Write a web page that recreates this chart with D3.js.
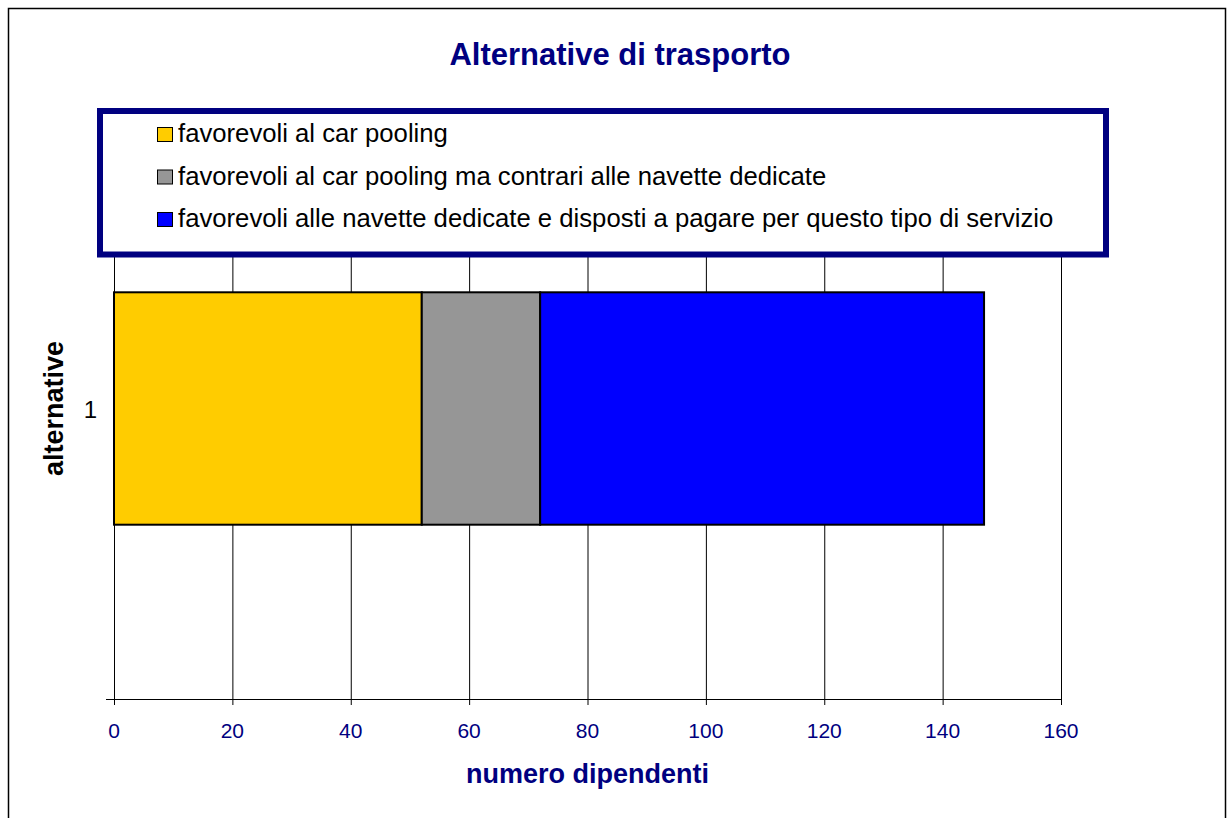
<!DOCTYPE html>
<html>
<head>
<meta charset="utf-8">
<script src="https://cdn.jsdelivr.net/npm/d3@7"></script>
<style>
  body { margin: 0; background: #fff; }
  text { font-family: Arial, "Liberation Sans", sans-serif; }
</style>
</head>
<body>
<svg id="chart" width="1227" height="818"></svg>
<script>
// data
const categories = ["1"];
const seriesNames = [
    "favorevoli al car pooling",
    "favorevoli al car pooling ma contrari alle navette dedicate",
    "favorevoli alle navette dedicate e disposti a pagare per questo tipo di servizio"
];
const seriesValues = [[52], [20], [75]];
const seriesColors = ["#ffcc00", "#969696", "#0000ff"];
const xTicks = [0, 20, 40, 60, 80, 100, 120, 140, 160];

const svg = d3.select("#chart");
const navy = "#000080";

// outer frame
svg.append("rect")
    .attr("x", 8.5).attr("y", 8.5)
    .attr("width", 1217).attr("height", 830)
    .attr("fill", "none").attr("stroke", "#000").attr("stroke-width", 1.5);

const plot = { left: 114, right: 1061, top: 118, bottom: 699 };

const x = d3.scaleLinear().domain([0, 160]).range([plot.left, plot.right]);
const y = d3.scaleBand().domain(categories).range([plot.top, plot.bottom])
    .paddingInner(0.6).paddingOuter(0.3);

// gridlines
svg.append("g")
    .selectAll("line")
    .data(xTicks)
    .join("line")
    .attr("x1", d => x(d) + 0.5).attr("x2", d => x(d) + 0.5)
    .attr("y1", plot.top).attr("y2", plot.bottom + 6)
    .attr("stroke", "#000").attr("stroke-width", 1);

// x axis line
svg.append("line")
    .attr("x1", 106).attr("x2", plot.right + 1)
    .attr("y1", plot.bottom + 0.5).attr("y2", plot.bottom + 0.5)
    .attr("stroke", "#000").attr("stroke-width", 1);

// tick labels
svg.append("g")
    .selectAll("text")
    .data(xTicks)
    .join("text")
    .attr("x", d => x(d))
    .attr("y", 738)
    .attr("text-anchor", "middle")
    .style("font-size", "21px")
    .attr("fill", navy)
    .text(d => d);

// stacked bars
const stackData = categories.map((c, i) => {
    const row = { cat: c };
    seriesNames.forEach((s, j) => row[s] = seriesValues[j][i]);
    return row;
});
const stacked = d3.stack().keys(seriesNames)(stackData);

svg.append("g")
    .selectAll("g")
    .data(stacked)
    .join("g")
    .attr("fill", (d, i) => seriesColors[i])
    .selectAll("rect")
    .data(d => d)
    .join("rect")
    .attr("x", d => x(d[0]))
    .attr("y", d => y(d.data.cat))
    .attr("width", d => x(d[1]) - x(d[0]))
    .attr("height", y.bandwidth())
    .attr("stroke", "#000")
    .attr("stroke-width", 2);

// category label
svg.append("g")
    .selectAll("text")
    .data(categories)
    .join("text")
    .attr("x", 97)
    .attr("y", d => y(d) + y.bandwidth() / 2 + 9)
    .attr("text-anchor", "end")
    .style("font-size", "24px")
    .text(d => d);

// title
svg.append("text")
    .attr("x", 620).attr("y", 65)
    .attr("text-anchor", "middle")
    .style("font-size", "31px").style("font-weight", "bold")
    .attr("fill", navy)
    .text("Alternative di trasporto");

// axis titles
svg.append("text")
    .attr("x", (plot.left + plot.right) / 2).attr("y", 783)
    .attr("text-anchor", "middle")
    .style("font-size", "27px").style("font-weight", "bold")
    .attr("fill", navy)
    .text("numero dipendenti");

svg.append("text")
    .attr("transform", "translate(63," + (y(categories[0]) + y.bandwidth() / 2) + ") rotate(-90)")
    .attr("text-anchor", "middle")
    .style("font-size", "27px").style("font-weight", "bold")
    .text("alternative");

// legend
const legend = svg.append("g");
legend.append("rect")
    .attr("x", 100).attr("y", 111)
    .attr("width", 1006).attr("height", 143.5)
    .attr("fill", "#fff").attr("stroke", navy).attr("stroke-width", 6);

const rows = legend.selectAll("g.item")
    .data(seriesNames)
    .join("g")
    .attr("class", "item")
    .attr("transform", (d, i) => "translate(0," + (142 + i * 42.5) + ")");

rows.append("rect")
    .attr("x", 157.5).attr("y", -14.5)
    .attr("width", 15).attr("height", 14)
    .attr("fill", (d, i) => seriesColors[i])
    .attr("stroke", "#000").attr("stroke-width", 1);

rows.append("text")
    .attr("x", 178).attr("y", 0)
    .style("font-size", "25.7px")
    .text(d => d);
</script>
</body>
</html>
